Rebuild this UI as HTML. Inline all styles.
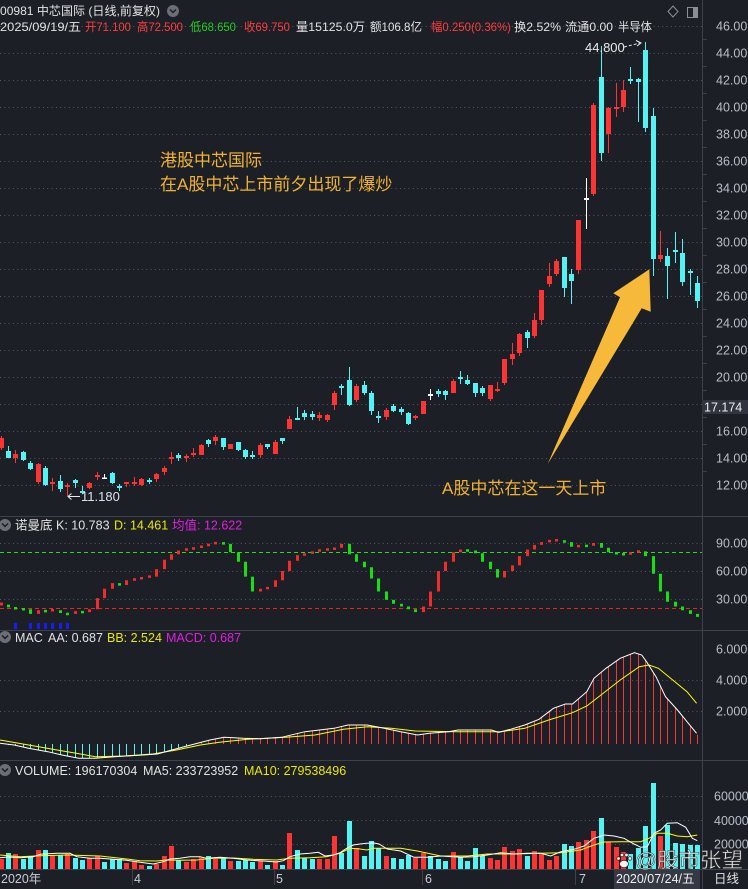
<!DOCTYPE html>
<html><head><meta charset="utf-8"><style>
html,body{margin:0;padding:0;background:#1c1f26;width:748px;height:889px;overflow:hidden}
svg{display:block}
text{font-family:"Liberation Sans","Noto Sans CJK SC",sans-serif}
</style></head><body>
<svg width="748" height="889" viewBox="0 0 748 889" xmlns="http://www.w3.org/2000/svg">
<rect width="748" height="889" fill="#1c1f26"/>
<!-- grid main -->
<g stroke="#555a66" stroke-width="1" stroke-dasharray="1 3.3">
<path d="M0 26.5H702M0 53.5H702M0 80.5H702M0 107.5H702M0 134.5H702M0 161.5H702M0 188.5H702M0 215.5H702M0 242.5H702M0 269.5H702M0 296.5H702M0 323.5H702M0 350.5H702M0 377.5H702M0 404.5H702M0 431.5H702M0 458.5H702M0 485.5H702"/>
<path d="M0 543.5H702M0 571.5H702M0 599.5H702"/>
<path d="M0 680.5H702M0 711.5H702"/>
<path d="M0 796.5H702M0 820.5H702M0 844.5H702"/>
</g>
<!-- separators -->
<g stroke="#3d414c" stroke-width="1">
<path d="M0 516.5H748M0 630.5H748M0 760.5H748M0 869.5H748M702.5 0V889"/>
<path d="M702 39.5h5M702 66.5h5M702 93.5h5M702 120.5h5M702 147.5h5M702 174.5h5M702 201.5h5M702 228.5h5M702 255.5h5M702 282.5h5M702 309.5h5M702 336.5h5M702 363.5h5M702 390.5h5M702 417.5h5M702 444.5h5M702 471.5h5"/>
<path d="M132.5 870V885M274.5 870V885M422.5 870V885M575.5 870V885"/>
</g>

<!-- header -->
<text x="0" y="15" font-size="12" fill="#e2e2e2" textLength="160" lengthAdjust="spacingAndGlyphs">00981 中芯国际 (日线,前复权)</text>
<circle cx="173" cy="11" r="6" fill="#6b6e76"/>
<path d="M170 9.5L173 12.5L176 9.5" stroke="#1c1f26" stroke-width="1.5" fill="none"/>
<path d="M673 6L678 11.5L673 17L668 11.5Z" stroke="#8a8e98" fill="none"/>
<rect x="687.5" y="7.5" width="10" height="10" stroke="#8a8e98" fill="none"/>
<rect x="693" y="8" width="4" height="9" fill="#8a8e98"/>
<g font-size="12" lengthAdjust="spacingAndGlyphs">
<text x="0" y="31" fill="#e2e2e2" textLength="81" lengthAdjust="spacingAndGlyphs">2025/09/19/五</text>
<text x="85" y="31" fill="#ff3d3d" textLength="46" lengthAdjust="spacingAndGlyphs">开71.100</text>
<text x="137" y="31" fill="#ff3d3d" textLength="46" lengthAdjust="spacingAndGlyphs">高72.500</text>
<text x="190" y="31" fill="#1fcf1f" textLength="46" lengthAdjust="spacingAndGlyphs">低68.650</text>
<text x="244" y="31" fill="#ff3d3d" textLength="46" lengthAdjust="spacingAndGlyphs">收69.750</text>
<text x="296" y="31" fill="#e2e2e2" textLength="69" lengthAdjust="spacingAndGlyphs">量15125.0万</text>
<text x="370" y="31" fill="#e2e2e2" textLength="52" lengthAdjust="spacingAndGlyphs">额106.8亿</text>
<text x="431" y="31" fill="#ff3d3d" textLength="80" lengthAdjust="spacingAndGlyphs">幅0.250(0.36%)</text>
<text x="514" y="31" fill="#e2e2e2" textLength="47" lengthAdjust="spacingAndGlyphs">换2.52%</text>
<text x="565" y="31" fill="#e2e2e2" textLength="48" lengthAdjust="spacingAndGlyphs">流通0.00</text>
<text x="618" y="31" fill="#e2e2e2" textLength="34" lengthAdjust="spacingAndGlyphs">半导体</text>
</g>

<!-- price axis labels -->
<g font-size="12.5" fill="#b8bec9">
<text x="716" y="30.5">46.00</text><text x="716" y="57.5">44.00</text><text x="716" y="84.5">42.00</text><text x="716" y="111.5">40.00</text><text x="716" y="138.5">38.00</text><text x="716" y="165.5">36.00</text><text x="716" y="192.5">34.00</text><text x="716" y="219.5">32.00</text><text x="716" y="246.5">30.00</text><text x="716" y="273.5">28.00</text><text x="716" y="300.5">26.00</text><text x="716" y="327.5">24.00</text><text x="716" y="354.5">22.00</text><text x="716" y="381.5">20.00</text><text x="716" y="435.5">16.00</text><text x="716" y="462.5">14.00</text><text x="716" y="489.5">12.00</text>
<text x="716" y="547.5">90.00</text><text x="716" y="575.5">60.00</text><text x="716" y="603.5">30.00</text>
<text x="716" y="653.5">6.000</text><text x="716" y="684.5">4.000</text><text x="716" y="715.5">2.000</text>
<text x="714" y="800.5">60000</text><text x="714" y="825">40000</text><text x="714" y="848.5">20000</text>
</g>
<rect x="702" y="400" width="46" height="14" fill="#30343e"/>
<text x="704" y="411.5" font-size="12.5" fill="#eeeeee">17.174</text>

<!-- candles: wicks -->
<path stroke="#fc3434" stroke-width="1" fill="none" d="M1.5 436V450M15.5 450V463M38.5 463V484M52.5 478V491M67.5 483V496M89.5 482V489M97.5 472V480M126.5 482V487M134.5 477V486M141.5 478V486M156.5 473V482M164.5 466V475M171.5 452V464M186.5 454V462M193.5 448V457M201.5 444V455M215.5 435V445M230.5 444V449M260.5 443V458M275.5 440V454M289.5 416V429M319.5 412V421M327.5 414V422M334.5 391V410M356.5 384V402M386.5 408V420M415.5 415V420M423.5 401V414M453.5 379V393M490.5 385V401M497.5 382V392M504.5 359V385M512.5 343V365M519.5 333V356M534.5 313V338M541.5 290V325M549.5 263V287M556.5 259V276M578.5 220V274M593.5 103V196M608.5 107V153M616.5 83V117M623.5 80V112M660.5 231V262"/>
<path fill="#fc3434" d="M-1 438h5V448h-5zM13 454h5V458h-5zM36 464h5V482h-5zM50 482h5V484h-5zM65 485h5V487h-5zM87 483h5V488h-5zM95 475h5V477h-5zM124 482h5V484h-5zM132 482h5V484h-5zM139 479h5V485h-5zM154 474h5V479h-5zM162 468h5V472h-5zM169 457h5V459h-5zM184 456h5V458h-5zM191 453h5V455h-5zM199 445h5V455h-5zM213 437h5V441h-5zM228 444h5V449h-5zM258 445h5V455h-5zM273 442h5V454h-5zM287 419h5V429h-5zM317 415h5V418h-5zM325 415h5V420h-5zM332 393h5V405h-5zM354 386h5V400h-5zM384 410h5V417h-5zM413 416h5V418h-5zM421 401h5V414h-5zM451 381h5V393h-5zM488 385h5V399h-5zM495 389h5V391h-5zM502 359h5V383h-5zM510 354h5V359h-5zM517 334h5V353h-5zM532 320h5V336h-5zM539 290h5V320h-5zM547 276h5V284h-5zM554 261h5V274h-5zM576 220h5V270h-5zM591 105h5V194h-5zM606 108h5V134h-5zM614 107h5V109h-5zM621 90h5V107h-5zM658 255h5V259h-5z"/>
<path stroke="#54f3f3" stroke-width="1" fill="none" d="M8.5 446V458M23.5 451V461M30.5 461V470M45.5 466V486M60.5 475V492M75.5 479V488M82.5 486V494M112.5 472V484M119.5 484V491M149.5 478V484M178.5 453V461M208.5 439V447M223.5 438V450M238.5 442V451M245.5 449V459M252.5 451V459M267.5 444V449M282.5 438V444M297.5 407V419M304.5 410V420M312.5 411V420M341.5 384V395M349.5 367V406M364.5 381V395M371.5 391V415M378.5 411V423M393.5 404V412M401.5 407V415M408.5 412V425M438.5 389V397M445.5 390V400M460.5 371V384M467.5 375V385M475.5 383V397M482.5 386V396M527.5 330V348M564.5 257V297M571.5 269V304M601.5 46V161M630.5 67V84M638.5 78V122M645.5 42V132M653.5 108V276M667.5 248V299M675.5 232V263M682.5 239V286M690.5 269V295M697.5 276V308"/>
<path fill="#54f3f3" d="M6 451h5V458h-5zM21 452h5V460h-5zM28 463h5V469h-5zM43 468h5V485h-5zM58 481h5V489h-5zM73 480h5V483h-5zM80 491h5V493h-5zM110 473h5V483h-5zM117 486h5V488h-5zM147 480h5V482h-5zM176 455h5V458h-5zM206 440h5V444h-5zM221 438h5V447h-5zM236 442h5V450h-5zM243 450h5V457h-5zM250 455h5V457h-5zM265 444h5V447h-5zM280 438h5V441h-5zM295 418h5V420h-5zM302 413h5V417h-5zM310 414h5V417h-5zM339 386h5V388h-5zM347 380h5V405h-5zM362 385h5V393h-5zM369 393h5V411h-5zM376 416h5V418h-5zM391 406h5V411h-5zM399 409h5V412h-5zM406 413h5V424h-5zM436 391h5V394h-5zM443 391h5V395h-5zM458 377h5V379h-5zM465 380h5V384h-5zM473 383h5V393h-5zM480 388h5V393h-5zM525 332h5V338h-5zM562 257h5V288h-5zM569 274h5V281h-5zM599 77h5V153h-5zM628 79h5V81h-5zM636 79h5V82h-5zM643 50h5V128h-5zM651 116h5V259h-5zM665 256h5V266h-5zM673 250h5V252h-5zM680 253h5V282h-5zM688 271h5V273h-5zM695 283h5V301h-5z"/>
<path stroke="#ffffff" stroke-width="1" fill="none" d="M104.5 474V479M430.5 389V400M586.5 178V229"/>
<path fill="#ffffff" d="M102 477.5h5V479h-5zM428 394h5V396h-5zM584 198h5V200h-5z"/>

<!-- price markers -->
<text x="585" y="52" font-size="13" fill="#eaeaea">44.800</text>
<path d="M624 47L640 43" stroke="#eaeaea" stroke-width="1" stroke-dasharray="3 2" fill="none"/>
<path d="M636 40.5L641 43L637 46" stroke="#eaeaea" stroke-width="1" fill="none"/>
<path d="M68 496.5H80M71.5 493.5L68 496.5L71.5 499.5" stroke="#eaeaea" stroke-width="1" fill="none"/>
<text x="81" y="501" font-size="13" fill="#dde1ea">11.180</text>

<!-- annotations -->
<g font-size="17" fill="#f2b330">
<text x="160" y="166">港股中芯国际</text>
<text x="160" y="190">在A股中芯上市前夕出现了爆炒</text>
<text x="442" y="494">A股中芯在这一天上市</text>
</g>
<polygon points="547.7,464 620,297.3 613.3,293.3 649.3,269.3 650.7,311.7 641.7,308.3" fill="#f7b93a"/>

<!-- 诺曼底 panel -->
<circle cx="5" cy="525" r="6" fill="#6b6e76"/>
<path d="M2 523.5L5 526.5L8 523.5" stroke="#1c1f26" stroke-width="1.5" fill="none"/>
<g font-size="12.5">
<text x="15" y="529.5" fill="#e2e2e2">诺曼底</text>
<text x="56" y="529.5" fill="#e2e2e2">K: 10.783</text>
<text x="114" y="529.5" fill="#e8e800">D: 14.461</text>
<text x="172" y="529.5" fill="#e020e0">均值: 12.622</text>
</g>
<path d="M0 552.5H702" stroke="#22dd22" stroke-width="1" stroke-dasharray="4 3"/>
<path d="M0 608.5H702" stroke="#ee2222" stroke-width="1" stroke-dasharray="4 3"/>
<path fill="#f52a2a" d="M0 602.5h3V605.5h-3zM37 610.2h3V613.9h-3zM51 609h3V611.5h-3zM74 611.1h3V613.9h-3zM88 609.3h3V612.1h-3zM96 598.1h3V609.3h-3zM103 588.7h3V598.1h-3zM111 583.1h3V588.7h-3zM125 580.3h3V585h-3zM133 578.2h3V580.7h-3zM140 577h3V579.5h-3zM148 575.4h3V577.9h-3zM155 569.1h3V576.6h-3zM163 559.8h3V569.1h-3zM170 554.2h3V559.8h-3zM177 550.5h3V554.2h-3zM185 548.3h3V550.8h-3zM192 547.2h3V549.7h-3zM200 545.5h3V548h-3zM207 543.7h3V546.2h-3zM214 541.9h3V544.4h-3zM259 588.7h3V591.5h-3zM266 586.9h3V589.4h-3zM274 580.3h3V586.9h-3zM281 571h3V580.3h-3zM288 560.7h3V571h-3zM296 555.1h3V560.7h-3zM303 553.3h3V555.8h-3zM311 551.4h3V553.9h-3zM318 549.3h3V551.8h-3zM326 548.3h3V550.8h-3zM333 547.5h3V550h-3zM340 543.9h3V547.7h-3zM422 606.5h3V612.1h-3zM429 591.5h3V606.5h-3zM437 571h3V591.5h-3zM444 561.7h3V571h-3zM452 552.3h3V561.7h-3zM459 549.5h3V552.3h-3zM503 571h3V577.5h-3zM511 565.4h3V571h-3zM518 556.1h3V565.4h-3zM526 549.5h3V556.1h-3zM533 544.9h3V549.5h-3zM540 542.1h3V544.9h-3zM548 539.9h3V542.4h-3zM555 539h3V541.5h-3zM577 544.9h3V547.4h-3zM592 543h3V545.8h-3zM629 552.3h3V554.8h-3zM637 550.2h3V552.7h-3z"/>
<path fill="#14e014" d="M7 604.6h3V607.4h-3zM14 607h3V609.5h-3zM22 608h3V610.5h-3zM29 609.3h3V613.9h-3zM44 609.9h3V612.4h-3zM59 610.2h3V613h-3zM66 612.7h3V615.2h-3zM81 610.9h3V613.4h-3zM118 583.1h3V585.6h-3zM222 542.1h3V544.6h-3zM229 543.9h3V552.3h-3zM237 552.3h3V561.7h-3zM244 561.7h3V576.6h-3zM251 576.6h3V591.5h-3zM348 543.9h3V554.2h-3zM355 554.2h3V561.7h-3zM363 561.7h3V567.3h-3zM370 567.3h3V578.5h-3zM377 578.5h3V591.5h-3zM385 591.5h3V599.9h-3zM392 599.9h3V603.7h-3zM400 603.7h3V606.5h-3zM407 606.5h3V609.3h-3zM414 609.3h3V612.1h-3zM466 549.3h3V551.8h-3zM474 550.5h3V553.3h-3zM481 553.3h3V561.7h-3zM489 561.7h3V569.1h-3zM496 569.1h3V577.5h-3zM563 540.2h3V542.7h-3zM570 542.1h3V546.7h-3zM585 544.6h3V547.1h-3zM600 543h3V547.7h-3zM607 547.7h3V552.3h-3zM615 552h3V554.5h-3zM622 553h3V555.5h-3zM644 551.4h3V556.1h-3zM652 556.1h3V573.8h-3zM659 573.8h3V591.5h-3zM666 591.5h3V601.8h-3zM674 601.8h3V606.5h-3zM681 606.5h3V610.2h-3zM689 610.2h3V613.9h-3zM696 613.9h3V616.9h-3z"/>
<path fill="#1a1aff" d="M14 623h3V629h-3zM29 623h3V629h-3zM37 623h3V629h-3zM44 623h3V629h-3zM51 623h3V629h-3zM59 623h3V629h-3zM66 623h3V629h-3z"/>

<!-- MAC panel -->
<circle cx="5" cy="637" r="6" fill="#6b6e76"/>
<path d="M2 635.5L5 638.5L8 635.5" stroke="#1c1f26" stroke-width="1.5" fill="none"/>
<g font-size="12.5">
<text x="15" y="642" fill="#e2e2e2">MAC</text>
<text x="48" y="642" fill="#e2e2e2">AA: 0.687</text>
<text x="107" y="642" fill="#e8e800">BB: 2.524</text>
<text x="166" y="642" fill="#e020e0">MACD: 0.687</text>
</g>
<path stroke="#54f3f3" stroke-width="1" fill="none" d="M8.5 744V745M15.5 744V745.3M23.5 744V747.2M30.5 744V748.7M38.5 744V750.1M45.5 744V751.3M52.5 744V752.8M60.5 744V754.7M67.5 744V756.1M75.5 744V757.7M82.5 744V758.3M89.5 744V758.3M97.5 744V758.1M104.5 744V757.5M112.5 744V756.9M119.5 744V756.4M126.5 744V756M134.5 744V755.5M141.5 744V755M149.5 744V754.6M156.5 744V754M164.5 744V752M171.5 744V750.1M178.5 744V748.2M186.5 744V746.1"/>
<path stroke="#fc3434" stroke-width="1" fill="none" d="M201.5 744V742.2M208.5 744V740.4M215.5 744V738.9M223.5 744V737.4M230.5 744V737.7M238.5 744V738M245.5 744V738.4M252.5 744V738.5M260.5 744V738.6M267.5 744V738.2M275.5 744V737.7M282.5 744V737M289.5 744V735.4M297.5 744V733.5M304.5 744V731.8M312.5 744V730.8M319.5 744V730M327.5 744V729.1M334.5 744V728.2M341.5 744V726.5M349.5 744V725M356.5 744V725M364.5 744V725M371.5 744V725.8M378.5 744V727.1M386.5 744V728.7M393.5 744V730.2M401.5 744V731.8M408.5 744V733.2M415.5 744V734.6M423.5 744V734.2M430.5 744V733.2M438.5 744V732.5M445.5 744V731.9M453.5 744V730.8M460.5 744V730M467.5 744V730M475.5 744V730M482.5 744V730M490.5 744V730M497.5 744V732M504.5 744V730.8M512.5 744V728.7M519.5 744V726.6M527.5 744V723.9M534.5 744V721.1M541.5 744V717.3M549.5 744V711.3M556.5 744V707.2M564.5 744V704.3M571.5 744V704M578.5 744V698.8M586.5 744V692M593.5 744V679.2M601.5 744V672M608.5 744V666.7M616.5 744V660.9M623.5 744V657.1M630.5 744V654.3M638.5 744V654M645.5 744V660.3M653.5 744V672.7M660.5 744V686.2M667.5 744V699.5M675.5 744V707.8M682.5 744V716.2M690.5 744V725.9M697.5 744V734.7"/>
<polyline fill="none" stroke="#ffff00" stroke-width="1" points="0,740 28.6,745 57,750 76.3,753.3 95.4,756.7 124,756 152.7,754 176.5,750 200.4,745 219.5,742.3 248,739.3 286,737.3 315,735 343.5,729.3 367.4,726.7 391.2,728.3 415,731 458,731.7 501,731.7 524.8,728.3 548.7,720 572.5,712.7 586.8,706 601,695 620.2,680 639.3,666.7 648.9,665 658.4,668.3 672.7,680 687,691.7 696.6,703.3"/>
<polyline fill="none" stroke="#ffffff" stroke-width="1" points="0,743.3 14,745 28.6,748.3 47.7,751.7 62,755 78.7,758.3 95.4,758.3 114.5,756.7 143,755 157.4,754 171.8,750 190.8,745 210,740 224,737.3 243,738.3 260,738.7 281.5,737.3 305,731.7 334,728.3 348,725 367,725 381.7,727.7 400.8,731.7 417.5,735 429.4,733.3 448.5,731.7 458,730 491.4,730 498.6,732.3 510.5,729.3 524.8,725 539,719.3 553.4,708.3 565.4,704 572.5,704 586.8,691.7 594,678.3 606,668.3 620.2,658.3 634.5,652.7 641.7,655 646.5,661.7 656,676.7 665.5,696.7 677.5,710 687,721.7 696.6,733.3"/>

<!-- VOLUME panel -->
<circle cx="5" cy="770" r="6" fill="#6b6e76"/>
<path d="M2 768.5L5 771.5L8 768.5" stroke="#1c1f26" stroke-width="1.5" fill="none"/>
<g font-size="12.5">
<text x="15" y="775" fill="#e2e2e2">VOLUME: 196170304</text>
<text x="143" y="775" fill="#e2e2e2">MA5: 233723952</text>
<text x="244" y="775" fill="#e8e800">MA10: 279538496</text>
</g>
<path fill="#fc3434" d="M-1 859h5V869h-5zM13 854h5V869h-5zM36 850h5V869h-5zM50 855h5V869h-5zM65 854h5V869h-5zM87 858h5V869h-5zM95 856h5V869h-5zM124 863h5V869h-5zM132 861h5V869h-5zM139 865h5V869h-5zM154 864h5V869h-5zM162 856h5V869h-5zM169 846h5V869h-5zM184 862h5V869h-5zM191 859h5V869h-5zM199 857h5V869h-5zM213 859h5V869h-5zM228 861h5V869h-5zM258 861h5V869h-5zM273 861h5V869h-5zM287 833h5V869h-5zM317 859h5V869h-5zM325 859h5V869h-5zM332 836h5V869h-5zM354 848h5V869h-5zM384 856h5V869h-5zM413 858h5V869h-5zM421 853h5V869h-5zM451 852h5V869h-5zM488 858h5V869h-5zM495 860h5V869h-5zM502 847h5V869h-5zM510 851h5V869h-5zM517 849h5V869h-5zM532 851h5V869h-5zM539 854h5V869h-5zM547 860h5V869h-5zM554 856h5V869h-5zM576 842h5V869h-5zM584 840h5V869h-5zM591 831h5V869h-5zM606 842h5V869h-5zM614 847h5V869h-5zM621 852h5V869h-5zM658 836h5V869h-5z"/>
<path fill="#54f3f3" d="M6 853h5V869h-5zM21 859h5V869h-5zM28 856h5V869h-5zM43 850h5V869h-5zM58 855h5V869h-5zM73 858h5V869h-5zM80 860h5V869h-5zM102 862h5V869h-5zM110 859h5V869h-5zM117 859h5V869h-5zM147 866h5V869h-5zM176 860h5V869h-5zM206 856h5V869h-5zM221 858h5V869h-5zM236 861h5V869h-5zM243 860h5V869h-5zM250 862h5V869h-5zM265 865h5V869h-5zM280 865h5V869h-5zM295 850h5V869h-5zM302 858h5V869h-5zM310 859h5V869h-5zM339 853h5V869h-5zM347 821h5V869h-5zM362 856h5V869h-5zM369 841h5V869h-5zM376 848h5V869h-5zM391 858h5V869h-5zM399 859h5V869h-5zM406 855h5V869h-5zM428 856h5V869h-5zM436 859h5V869h-5zM443 861h5V869h-5zM458 857h5V869h-5zM465 861h5V869h-5zM473 848h5V869h-5zM480 856h5V869h-5zM525 856h5V869h-5zM562 844h5V869h-5zM569 846h5V869h-5zM599 818h5V869h-5zM628 854h5V869h-5zM636 848h5V869h-5zM643 826h5V869h-5zM651 783h5V869h-5zM665 825h5V869h-5zM673 843h5V869h-5zM680 844h5V869h-5zM688 845h5V869h-5zM695 845h5V869h-5z"/>
<polyline fill="none" stroke="#ffff00" stroke-width="1" points="0,855 20,856.7 40,855.7 66.7,855 100,856 126.7,859 140,860.7 156.7,861 166.7,860 180,860.3 196.7,860 213.3,858.3 233.3,858 253.3,859.3 276.7,860 290,858.3 310,857.7 326.7,856.7 340,853.3 350,848.3 358.3,848.7 366.7,850 374,848.3 400.7,848.3 417.3,851 440.7,856 467.3,856 487.3,854 514,854 540.7,853.3 560.7,852.7 580.7,850 594,845 604,842 620.7,841.7 640.7,841.7 649,838.3 657.3,833.3 667.3,833.3 677.3,836 687.3,836.7 697.3,835"/>
<polyline fill="none" stroke="#ffffff" stroke-width="1" points="0,857.7 8.3,857 20,857.7 33.3,856.7 40,854.3 56.7,853.3 70,853.3 76.7,856.7 90,858.3 100,858.3 110,859 126.7,860.3 140,862.3 153.3,864 163.3,861.7 170,859 180,858.3 190,856.7 200,856.7 206.7,858.3 220,857.3 233.3,858.3 246.7,860 263.3,861 276.7,862 283.3,860.7 290,856.7 300,854 310,853.3 318.3,852.3 325,856 333.3,855 340,852.7 346.7,848.3 353.3,845 360,844 366.7,843.3 374,843 379,844 387.3,849 400.7,851 414,857.3 427.3,857.3 440.7,856 460.7,857.3 474,856.7 487.3,855 500.7,852.7 514,854 527.3,853.3 540.7,853.3 550.7,856 560.7,851.7 574,849.3 584,846 594,838.3 604,835 614,836 624,838.3 634,844 640.7,847.3 647.3,846.7 654,833.3 660.7,830 667.3,823.3 677.3,822.7 685.7,827.3 692.3,838.3 697.3,840.7"/>

<!-- time axis -->
<g font-size="12.5" fill="#c8ccd4">
<text x="1" y="883">2020年</text>
<text x="134" y="883">4</text>
<text x="276" y="883">5</text>
<text x="425" y="883">6</text>
<text x="579" y="883">7</text>
</g>
<rect x="614" y="870" width="86" height="19" fill="#353943"/>
<text x="616" y="883" font-size="12.5" fill="#f0f0f0">2020/07/24/五</text>
<text x="714" y="883" font-size="12.5" fill="#e2e2e2">日线</text>

<!-- watermark -->
<g fill="#ffffff" stroke="#2a2a2a" stroke-width="0.8" opacity="0.92">
<ellipse cx="624" cy="864" rx="4.5" ry="3.6"/>
<circle cx="618.5" cy="858.5" r="1.8"/>
<circle cx="622" cy="855" r="1.8"/>
<circle cx="626.5" cy="855" r="1.8"/>
<circle cx="630" cy="858.5" r="1.8"/>
</g>
<text x="635" y="867" font-size="20.5" fill="#ffffff" stroke="#333333" stroke-width="0.6" opacity="0.92" textLength="108" lengthAdjust="spacingAndGlyphs">@股市张望</text>
</svg>
</body></html>
